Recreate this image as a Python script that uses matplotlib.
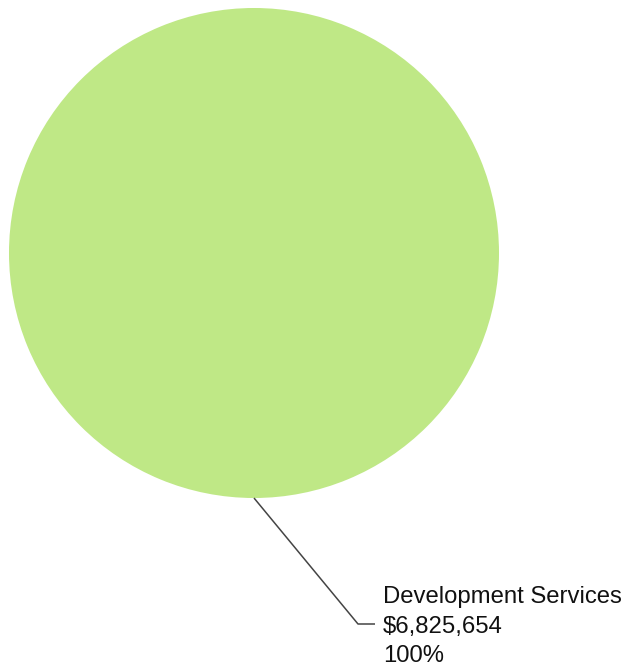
import matplotlib
matplotlib.use("Agg")
import matplotlib.pyplot as plt
import numpy as np

categories = ["Development Services"]
values = [6825654]
percent_labels = ["100%"]
colors = ["#BFE886"]

W, H = 627, 669
fig = plt.figure(figsize=(W / 100, H / 100), dpi=100)
ax = fig.add_axes([0, 0, 1, 1])

cx, cy, r = 254, 253, 245
ax.pie(values, colors=colors, center=(cx, cy), radius=r, startangle=90,
       counterclock=False, wedgeprops=dict(linewidth=0), frame=True)
ax.set_xlim(0, W)
ax.set_ylim(H, 0)
ax.axis("off")

# leader line from bottom of pie
x0, y0 = cx, cy + r
ax.plot([x0, 358, 375], [y0, 624, 624], color="#444444", lw=1.1,
        solid_capstyle="butt")

lines = [categories[0], "${:,}".format(values[0]), percent_labels[0]]
baselines = [603, 633, 662]
for txt, yb in zip(lines, baselines):
    ax.text(383, yb, txt, fontsize=17.2, family=["Liberation Sans", "DejaVu Sans"],
            color="#111111", ha="left", va="baseline")

fig.savefig("out.png", dpi=100)
